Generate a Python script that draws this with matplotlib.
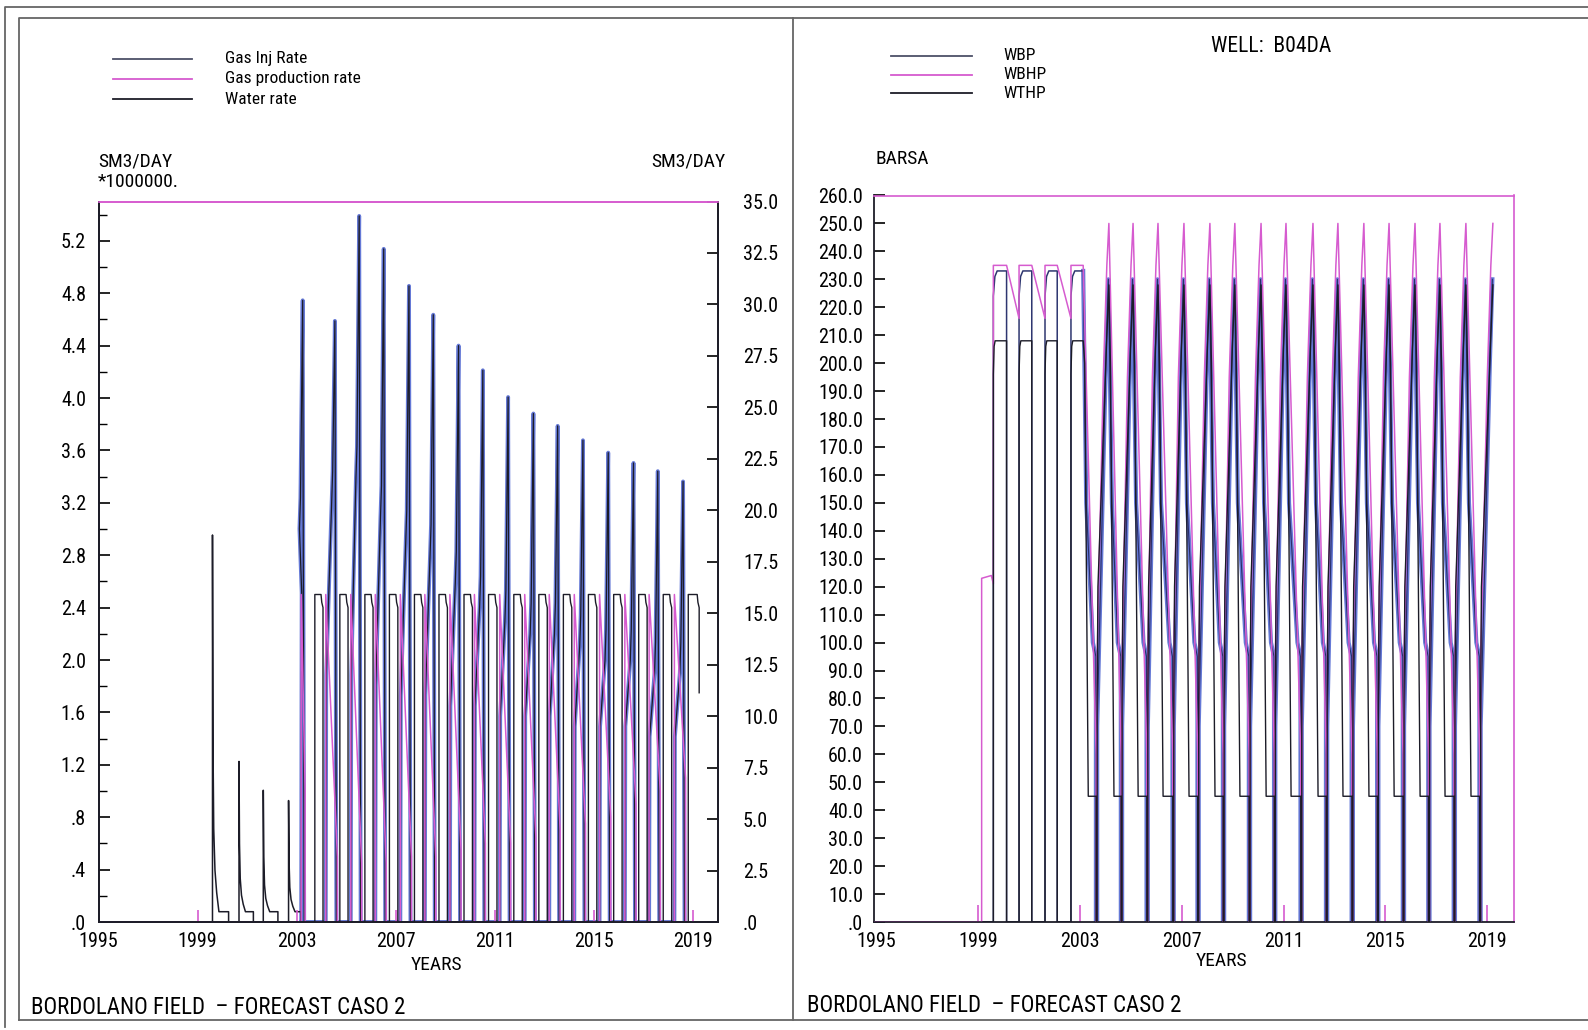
import matplotlib
matplotlib.use("Agg")
import matplotlib.pyplot as plt
from matplotlib import font_manager
from matplotlib.lines import Line2D
from matplotlib.ticker import FixedLocator, FuncFormatter

# ------------------------------------------------------------
# fonts: a narrow plotter-like face if one is installed
# ------------------------------------------------------------
_fonts = font_manager.fontManager.ttflist
_names = {f.name for f in _fonts}
if "Liberation Sans Narrow" in _names:
    plt.rcParams["font.family"] = ["Liberation Sans Narrow", "DejaVu Sans"]
    FS_TICK, FS_LAB, FS_LEG, FS_FOOT = 15, 14.5, 13, 17
elif "Roboto Condensed" in _names:
    plt.rcParams["font.family"] = ["Roboto Condensed", "DejaVu Sans"]
    FS_TICK, FS_LAB, FS_LEG, FS_FOOT = 14.5, 14, 12.5, 16.5
else:
    plt.rcParams["font.family"] = ["DejaVu Sans"]
    FS_TICK, FS_LAB, FS_LEG, FS_FOOT = 11.5, 11, 10, 13

PINK = "#d65bcf"
BLUE = "#4a62cf"
INK = "#1c1c28"
GREY_BLUE = "#4d5068"

# ============================================================
# LEFT CHART data (gas on left axis *1e6 SM3/DAY, water on right axis SM3/DAY)
# ============================================================
# early water spikes 1999-2003 (sharp peak then decaying tail)
early_water_start = [1999.60, 2000.67, 2001.65, 2002.67]
early_water_end = [2000.25, 2001.25, 2002.24, 2003.17]
early_water_peak = [18.8, 7.8, 6.4, 5.9]
tail_dt = [0.02, 0.05, 0.10, 0.17, 0.26]          # tail shape after the peak
tail_frac = [0.45, 0.22, 0.11, 0.05, 0.0]
tail_level = 0.5

# yearly storage cycles 2003-2019
prod_start = [2003.18, 2004.17, 2005.18, 2006.17, 2007.18, 2008.17, 2009.18, 2010.17,
              2011.19, 2012.20, 2013.19, 2014.20, 2015.22, 2016.24, 2017.22, 2018.24]
water_peak_t = [2003.24, 2004.54, 2005.52, 2006.51, 2007.53, 2008.51, 2009.53, 2010.51,
                2011.53, 2012.55, 2013.53, 2014.55, 2015.57, 2016.59, 2017.57, 2018.59]
water_peak = [30.2, 29.2, 34.3, 32.7, 30.9, 29.5, 28.0, 26.8,
              25.5, 24.7, 24.1, 23.4, 22.8, 22.3, 21.9, 21.4]
water_shoulder = [19.1, 20.4, 21.6, 19.7, 18.5, 17.8, 16.5, 15.3,
                  14.6, 14.0, 14.0, 13.4, 12.7, 12.7, 12.1, 12.1]
water_jump = [16.0, 12.0, 12.0, 11.5, 11.0, 11.0, 10.5, 10.5,
              10.0, 10.0, 10.0, 9.5, 9.5, 9.5, 9.0, 9.0]
gas_prod_top = 2.5
gas_prod_end = [1.0, 0.5, 0.45, 0.45, 0.5, 0.5, 0.55, 0.6,
                0.6, 0.65, 0.7, 0.75, 0.8, 0.9, 1.0, 1.1]
inj_start = [2003.73, 2004.74, 2005.75, 2006.74, 2007.75, 2008.74, 2009.75, 2010.74,
             2011.76, 2012.77, 2013.76, 2014.77, 2015.79, 2016.80, 2017.79, 2018.80]
inj_end = [2004.06, 2005.07, 2006.08, 2007.08, 2008.09, 2009.08, 2010.09, 2011.08,
           2012.10, 2013.11, 2014.10, 2015.11, 2016.13, 2017.14, 2018.13, 2019.24]
inj_rate = 2.5
inj_final = 1.75

# ============================================================
# RIGHT CHART data (BARSA), well B04DA
# ============================================================
wbhp_first_t = 1999.13
wbhp_first = 123.0
early_open = [1999.59, 2000.60, 2001.62, 2002.64]
early_shut = [2000.11, 2001.10, 2002.10, 2003.12]
early_wbhp_high = 235.0
early_wbhp_low = 216.0
early_wbp = [224.0, 231.0, 233.0]
early_wthp = [196.0, 206.0, 208.0]

low_t = [2003.65, 2004.63, 2005.64, 2006.66, 2007.64, 2008.64, 2009.66, 2010.65,
         2011.69, 2012.69, 2013.70, 2014.70, 2015.71, 2016.71, 2017.71, 2018.72]
peak_t = [2004.13, 2005.08, 2006.06, 2007.08, 2008.10, 2009.08, 2010.11, 2011.09,
          2012.15, 2013.13, 2014.15, 2015.14, 2016.16, 2017.14, 2018.16, 2019.22]
wbhp_cycle = [60.0, 95.0, 195.0, 235.0, 250.0]    # low, restart, rise..., peak
wbp_fall = [150.0, 100.0, 95.0]
wbp_rise = [70.0, 200.0, 230.0]
wthp_rise = [120.0, 205.0, 228.0]
wthp_fall = [200.0, 45.0]


def build_left():
    # early water: thin needles with decaying tails
    et, ev = [1995.0], [0.0]
    for s, e, p in zip(early_water_start, early_water_end, early_water_peak):
        et += [s, s]
        ev += [0.0, p]
        for dt, f in zip(tail_dt, tail_frac):
            et.append(s + dt)
            ev.append(tail_level + (p - tail_level) * f)
        et += [e, e]
        ev += [tail_level, 0.0]
    # cyclic water
    wt, wv = [early_water_end[-1]], [0.0]
    for ps, tp, j, sh, pk in zip(prod_start, water_peak_t, water_jump, water_shoulder, water_peak):
        wt += [ps, ps + 0.02, tp - 0.13, tp - 0.09, tp, tp + 0.06]
        wv += [0.0, j, sh, sh + 1.5, pk, 0.0]

    gt, gv = [1995.0], [0.0]
    for ps, tp, ge in zip(prod_start, water_peak_t, gas_prod_end):
        gt += [ps, ps, tp + 0.1, tp + 0.1]
        gv += [0.0, gas_prod_top, ge, 0.0]

    it, iv = [1995.0], [0.0]
    for k, (s, e) in enumerate(zip(inj_start, inj_end)):
        it += [s, s, e - 0.08, e - 0.05, e]
        iv += [0.0, inj_rate, inj_rate, 2.44, 2.4]
        it.append(e)
        iv.append(0.0 if k < len(inj_end) - 1 else inj_final)
    return (et, ev), (wt, wv), (gt, gv), (it, iv)


def build_right():
    # WBHP
    ht = [1994.9, wbhp_first_t, wbhp_first_t, early_open[0] - 0.08, early_open[0]]
    hv = [0.0, 0.0, wbhp_first, wbhp_first + 1, wbhp_first - 2]
    for k, (s, e) in enumerate(zip(early_open, early_shut)):
        ht += [s, e]
        hv += [early_wbhp_high, early_wbhp_high]
        if k < len(early_open) - 1:
            ht.append(early_open[k + 1])
            hv.append(early_wbhp_low)
    # WBP / WTHP early square pulses
    bt, bv = [1994.9], [0.0]
    tt, tv = [1994.9], [0.0]
    for k, (s, e) in enumerate(zip(early_open, early_shut)):
        bt += [s, s, s + 0.06, s + 0.15, e]
        bv += [0.0] + early_wbp + [early_wbp[-1]]
        tt += [s, s, s + 0.03, s + 0.07, e]
        tv += [0.0] + early_wthp + [early_wthp[-1]]
        if k < len(early_open) - 1:
            bt.append(e)
            bv.append(0.0)
            tt.append(e)
            tv.append(0.0)
    # late WBP kept apart (drawn as a heavy blue trace)
    lbt, lbv = [early_shut[-1]], [early_wbp[-1]]
    # first decline of WTHP after the last early block
    tt += [early_shut[-1] + 0.06, early_shut[-1] + 0.2]
    tv += wthp_fall
    # yearly cycles: decline to the low, short shut-in, rise to the peak
    prev = early_shut[-1]
    for k, (L, P) in enumerate(zip(low_t, peak_t)):
        ht += [L - 0.02, L - 0.02, L + 0.02, L + 0.02, P - 0.22, P - 0.08, P]
        hv += [wbhp_cycle[0], 0.0, 0.0] + wbhp_cycle[1:]
        lbt += [prev + 0.12, L - 0.15, L - 0.03, L - 0.03, L + 0.02, L + 0.02, P - 0.12, P - 0.02]
        lbv += wbp_fall + [0.0, 0.0] + wbp_rise
        tt += [L - 0.02, L - 0.02, L + 0.02, L + 0.02, L + 0.05, P - 0.1, P]
        tv += [wthp_fall[-1], 0.0, 0.0, 80.0] + wthp_rise
        if k < len(low_t) - 1:
            tt += [P + 0.06, P + 0.2]
            tv += wthp_fall
        prev = P
    return (ht, hv), (bt, bv), (lbt, lbv), (tt, tv)


def fmt_tick(v, _pos=None):
    s = f"{v:.1f}"
    if s.startswith("0"):
        s = s[1:]
    return s


FIG_W, FIG_H = 1588, 1030


def fx(x):
    return x / FIG_W


def fy(y):
    return 1 - y / FIG_H


def fig_line(fig, xs, ys, color="#555555", lw=1.2):
    fig.add_artist(Line2D([fx(x) for x in xs], [fy(y) for y in ys],
                          transform=fig.transFigure, color=color, lw=lw))


def style_x(ax, xmin, xmax, ticklen):
    ax.set_xlim(xmin, xmax)
    ax.xaxis.set_major_locator(FixedLocator(list(range(1999, 2020, 4))))
    ax.xaxis.set_major_formatter(FuncFormatter(lambda v, p: f"{int(round(v))}"))
    ax.xaxis.set_minor_locator(FixedLocator([1995]))
    ax.xaxis.set_minor_formatter(FuncFormatter(lambda v, p: "1995"))
    ax.tick_params(axis="x", which="major", direction="in", length=ticklen, width=1.2,
                   color=PINK, labelsize=FS_TICK, pad=7, top=False)
    ax.tick_params(axis="x", which="minor", direction="in", length=0,
                   labelsize=FS_TICK, pad=7, top=False)


fig = plt.figure(figsize=(FIG_W / 100, FIG_H / 100), dpi=100)

# page frames
fig_line(fig, [5, 5, 1588], [1027, 7, 7], color="#666666", lw=1.3)
fig_line(fig, [19, 19, 1588], [1020, 18, 18], color="#666666", lw=1.3)
fig_line(fig, [19, 1588], [1020, 1020], color="#666666", lw=1.3)
fig_line(fig, [793, 793], [18, 1020], color="#666666", lw=1.3)

# ---------------- left chart ----------------
(et, ev), (wt, wv), (gt, gv), (it, iv) = build_left()

ax1 = fig.add_axes([fx(98.5), fy(922), (718 - 98.5) / FIG_W, (922 - 201.5) / FIG_H])
ax1r = ax1.twinx()
# gas traces drawn above the water trace
ax1.set_zorder(ax1r.get_zorder() + 1)
ax1.patch.set_visible(False)
ax1r.patch.set_visible(True)
ax1r.patch.set_facecolor("white")

ax1.plot(gt, gv, color=PINK, lw=1.1, zorder=2)
ax1.plot(it, iv, color=INK, lw=1.0, zorder=3)
ax1r.plot(et, ev, color=INK, lw=1.1, zorder=3)
ax1r.plot(wt, wv, color=BLUE, lw=2.8, alpha=0.85, zorder=2)
ax1r.plot(wt, wv, color=INK, lw=0.9, zorder=3)

ax1.set_ylim(0, 5.5)
ax1r.set_ylim(0, 35)
style_x(ax1, 1995, 2020, 9)
ax1.yaxis.set_major_locator(FixedLocator([i * 0.4 for i in range(14)]))
ax1.yaxis.set_minor_locator(FixedLocator([0.2 + i * 0.4 for i in range(14)]))
ax1.yaxis.set_major_formatter(FuncFormatter(fmt_tick))
ax1.tick_params(axis="y", which="major", direction="in", length=8, width=1.2,
                labelsize=FS_TICK, pad=9)
ax1.tick_params(axis="y", which="minor", direction="in", length=6, width=1.0)
ax1r.yaxis.set_major_locator(FixedLocator([i * 2.5 for i in range(15)]))
ax1r.yaxis.set_major_formatter(FuncFormatter(fmt_tick))
ax1r.tick_params(axis="y", direction="in", length=8, width=1.2, labelsize=FS_TICK, pad=18)
for a in (ax1, ax1r):
    for side in ("left", "right", "bottom"):
        a.spines[side].set_linewidth(1.3)
        a.spines[side].set_color(INK)
    a.spines["top"].set_color(PINK)
    a.spines["top"].set_linewidth(1.2)

fig.text(fx(98), fy(162), "SM3/DAY", fontsize=FS_LAB, va="center", ha="left")
fig.text(fx(98), fy(182), "*1000000.", fontsize=FS_LAB, va="center", ha="left")
fig.text(fx(726), fy(161), "SM3/DAY", fontsize=FS_LAB, va="center", ha="right")
fig.text(fx(436), fy(965), "YEARS", fontsize=FS_LAB, va="center", ha="center")
fig.text(fx(31), fy(1008), "BORDOLANO FIELD  \u2013 FORECAST CASO 2", fontsize=FS_FOOT,
         va="center", ha="left")

left_legend = [("Gas Inj Rate", GREY_BLUE), ("Gas production rate", PINK), ("Water rate", INK)]
for k, (name, col) in enumerate(left_legend):
    y = 59 + 20 * k
    fig_line(fig, [113, 192], [y, y], color=col, lw=1.3)
    fig.text(fx(225), fy(y), name, fontsize=FS_LEG, va="center", ha="left")

# ---------------- right chart ----------------
(ht, hv), (bt, bv), (lbt, lbv), (tt, tv) = build_right()

ax2 = fig.add_axes([fx(874), fy(922), (1514 - 874) / FIG_W, (922 - 195.5) / FIG_H])
ax2.plot(lbt, lbv, color=BLUE, lw=3.0, alpha=0.85, zorder=2)
ax2.plot(lbt, lbv, color="#2a2f6a", lw=0.8, zorder=2.5)
ax2.plot(bt, bv, color="#2e3670", lw=1.1, zorder=2)
ax2.plot(ht, hv, color=PINK, lw=1.1, zorder=3)
ax2.plot(tt, tv, color=INK, lw=1.0, zorder=4)
ax2.set_ylim(0, 260)
style_x(ax2, 1994.9, 2020.05, 12)
ax2.yaxis.set_major_locator(FixedLocator([i * 10 for i in range(27)]))
ax2.yaxis.set_major_formatter(FuncFormatter(fmt_tick))
ax2.tick_params(axis="y", direction="in", length=8, width=1.2, labelsize=FS_TICK, pad=8)
for side in ("left", "bottom"):
    ax2.spines[side].set_linewidth(1.3)
    ax2.spines[side].set_color(INK)
for side in ("top", "right"):
    ax2.spines[side].set_color(PINK)
    ax2.spines[side].set_linewidth(1.2)

fig.text(fx(876), fy(159), "BARSA", fontsize=FS_LAB, va="center", ha="left")
fig.text(fx(1271), fy(46), "WELL:  B04DA", fontsize=FS_LAB + 1.5, va="center", ha="center")
fig.text(fx(1221), fy(961), "YEARS", fontsize=FS_LAB, va="center", ha="center")
fig.text(fx(807), fy(1005), "BORDOLANO FIELD  \u2013 FORECAST CASO 2", fontsize=FS_FOOT,
         va="center", ha="left")

right_legend = [("WBP", GREY_BLUE), ("WBHP", PINK), ("WTHP", INK)]
for k, (name, col) in enumerate(right_legend):
    y = 56 + 18.5 * k
    fig_line(fig, [891, 972], [y, y], color=col, lw=1.3)
    fig.text(fx(1003), fy(y), name, fontsize=FS_LEG, va="center", ha="left")

fig.savefig("out.png", dpi=100)
